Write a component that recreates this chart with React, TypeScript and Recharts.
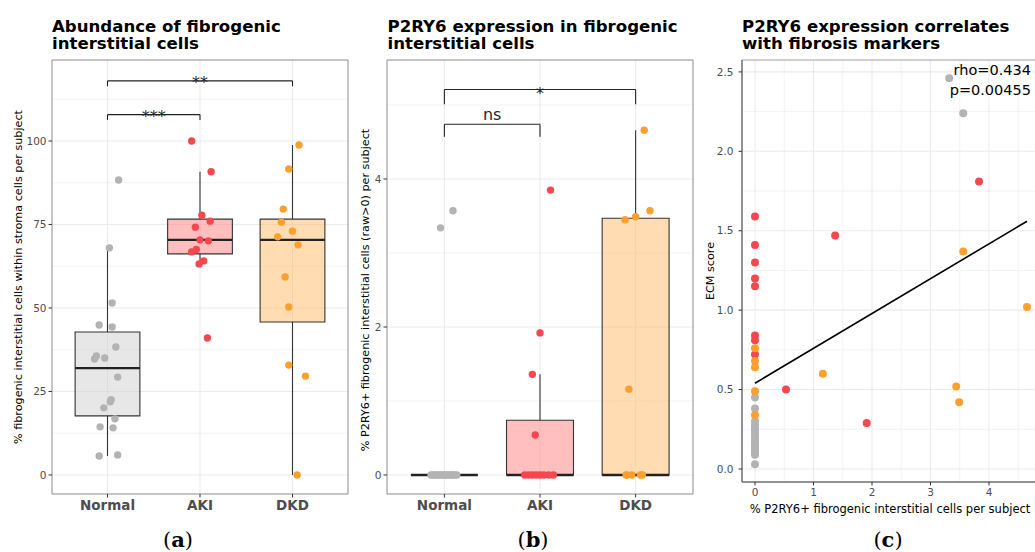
import React from "react";
import {
  CartesianGrid,
  ComposedChart,
  ReferenceArea,
  ReferenceLine,
  Scatter,
  XAxis,
  YAxis,
} from "recharts";

const FONT = "'DejaVu Sans', sans-serif";

const groups = ["Normal", "AKI", "DKD"];
const dotColor = ["#b3b3b3", "#f5474f", "#fd9f2c"];
const boxColor = ["#cfcfcf", "#ff8080", "#ffb966"];

// (a) abundance of fibrogenic interstitial cells (%), with horizontal jitter
const abundNormal = [88.3, 68.0, 51.5, 44.9, 44.3, 38.3, 35.6, 34.7, 35.0, 29.3, 22.5, 21.9, 20.1, 16.8, 14.4, 14.1, 5.7, 6.0];
const abundNormalJit = [0.12, 0.02, 0.05, -0.09, 0.05, 0.09, -0.12, -0.14, -0.03, 0.11, 0.04, 0.03, -0.04, 0.08, -0.08, 0.06, -0.09, 0.11];
const abundAKI = [100.0, 90.8, 77.8, 76.0, 74.2, 70.4, 70.1, 67.5, 66.8, 64.1, 63.2, 41.0];
const abundAKIJit = [-0.09, 0.12, 0.02, 0.11, -0.05, 0.0, 0.09, -0.04, -0.09, 0.04, -0.01, 0.08];
const abundDKD = [98.8, 91.6, 79.6, 75.7, 73.0, 71.3, 68.9, 59.3, 50.3, 32.9, 29.6, 0];
const abundDKDJit = [0.07, -0.04, -0.1, -0.12, 0.0, -0.16, 0.06, -0.08, -0.04, -0.04, 0.14, 0.05];

const abundLow = [5.7, 63.2, 0];
const abundQ1 = [17.7, 66.2, 45.8];
const abundMed = [32.0, 70.4, 70.4];
const abundQ3 = [42.8, 76.6, 76.6];
const abundHigh = [68.0, 90.8, 98.8];

// (b) % P2RY6+ fibrogenic interstitial cells
const p2Normal = [3.57, 3.34, 0, 0, 0, 0, 0, 0, 0, 0, 0, 0, 0, 0, 0, 0, 0, 0];
const p2NormalJit = [0.09, -0.04, -0.14, -0.12, -0.09, -0.07, -0.05, -0.03, -0.01, 0.01, 0.02, 0.04, 0.06, 0.08, 0.09, 0.11, 0.13, -0.1];
const p2AKI = [3.85, 1.92, 1.36, 0.54, 0, 0, 0, 0, 0, 0, 0, 0];
const p2AKIJit = [0.11, 0.0, -0.08, -0.05, -0.16, -0.12, -0.08, -0.04, 0.0, 0.04, 0.09, 0.14];
const p2DKD = [4.66, 3.57, 3.49, 3.45, 1.16, 0, 0, 0, 0, 0];
const p2DKDJit = [0.09, 0.15, 0.0, -0.11, -0.07, -0.1, -0.04, 0.07, 0.05, -0.09];

const p2Low = [0, 0, 0];
const p2Q1 = [0, 0, 0];
const p2Med = [0, 0, 0];
const p2Q3 = [0, 0.74, 3.47];
const p2High = [0, 1.36, 4.66];

// (c) ECM score vs % P2RY6+ cells
const corNormalX = [3.32, 3.56, 0, 0, 0, 0, 0, 0, 0, 0, 0, 0, 0, 0, 0, 0, 0, 0];
const corNormalY = [2.46, 2.24, 0.45, 0.38, 0.3, 0.28, 0.26, 0.24, 0.22, 0.2, 0.18, 0.17, 0.15, 0.13, 0.12, 0.1, 0.09, 0.03];
const corAKIX = [3.83, 1.37, 0.53, 1.91, 0, 0, 0, 0, 0, 0, 0, 0];
const corAKIY = [1.81, 1.47, 0.5, 0.29, 1.59, 1.41, 1.3, 1.2, 1.15, 0.84, 0.81, 0.72];
const corDKDX = [3.56, 4.65, 1.16, 3.44, 3.49, 0, 0, 0, 0, 0];
const corDKDY = [1.37, 1.02, 0.6, 0.52, 0.42, 0.76, 0.68, 0.64, 0.49, 0.34];
const fitLine = [
  { x: 0, y: 0.54 },
  { x: 4.65, y: 1.56 },
];

const jittered = (vals: number[], jit: number[], g: number) =>
  vals.map((v, i) => ({ x: g + 1 + jit[i], y: v }));
const paired = (xs: number[], ys: number[]) => xs.map((x, i) => ({ x, y: ys[i] }));

const dot = (color: string, r: number) => (p: any) =>
  <circle cx={p.cx} cy={p.cy} r={r} fill={color} />;

const tickStyle = { fill: "#4d4d4d", fontSize: 10.5, fontFamily: FONT };
const catStyle = { fill: "#4d4d4d", fontSize: 13.5, fontWeight: 700, fontFamily: FONT };

function bracketLabel(text: string, dy: number) {
  return (props: any) => {
    const vb = props.viewBox;
    return (
      <text x={vb.x + vb.width / 2} y={vb.y + dy} textAnchor="middle" fontSize={16} fontFamily={FONT} fill="#262626" stroke="none">
        {text}
      </text>
    );
  };
}

function boxes(low: number[], q1: number[], med: number[], q3: number[], high: number[]) {
  const out: React.ReactNode[] = [];
  groups.forEach((_, g) => {
    const c = g + 1;
    out.push(
      <ReferenceLine key={`wl${g}`} segment={[{ x: c, y: low[g] }, { x: c, y: q1[g] }]} stroke="#333" strokeWidth={1.1} ifOverflow="visible" />,
      <ReferenceLine key={`wh${g}`} segment={[{ x: c, y: q3[g] }, { x: c, y: high[g] }]} stroke="#333" strokeWidth={1.1} ifOverflow="visible" />
    );
    if (q3[g] > q1[g]) {
      out.push(
        <ReferenceArea key={`b${g}`} x1={c - 0.35} x2={c + 0.35} y1={q1[g]} y2={q3[g]} fill={boxColor[g]} fillOpacity={0.5} stroke="#333" strokeWidth={1.1} strokeOpacity={1} ifOverflow="visible" />
      );
    }
    out.push(
      <ReferenceLine key={`m${g}`} segment={[{ x: c - 0.35, y: med[g] }, { x: c + 0.35, y: med[g] }]} stroke="#222" strokeWidth={2.4} ifOverflow="visible" />
    );
  });
  return out;
}

function bracket(x1: number, x2: number, top: number, bottom: number, text: string, dy: number) {
  return [
    <ReferenceLine key={`bt${text}`} segment={[{ x: x1, y: top }, { x: x2, y: top }]} stroke="#222" strokeWidth={1.1} ifOverflow="visible" label={bracketLabel(text, dy)} />,
    <ReferenceLine key={`bl${text}`} segment={[{ x: x1, y: top }, { x: x1, y: bottom }]} stroke="#222" strokeWidth={1.1} ifOverflow="visible" />,
    <ReferenceLine key={`br${text}`} segment={[{ x: x2, y: top }, { x: x2, y: bottom }]} stroke="#222" strokeWidth={1.1} ifOverflow="visible" />,
  ];
}

function PanelA() {
  const yDomain = [-5.7, 124.25];
  return (
    <ComposedChart width={360} height={552} margin={{ top: 60, right: 12, bottom: 28, left: 30 }}>
      <CartesianGrid horizontalValues={[12.5, 37.5, 62.5, 87.5, 112.5]} vertical={false} stroke="#f3f3f3" />
      <CartesianGrid horizontalValues={[0, 25, 50, 75, 100]} verticalValues={[1, 2, 3]} stroke="#ebebeb" strokeWidth={1.1} />
      <XAxis type="number" dataKey="x" domain={[0.4, 3.6]} ticks={[1, 2, 3]} allowDataOverflow height={30}
        tickFormatter={(v) => groups[v - 1]} tick={catStyle} tickSize={3.5} tickMargin={3} tickLine={{ stroke: "#333" }} axisLine={false} />
      <YAxis type="number" dataKey="y" domain={yDomain} ticks={[0, 25, 50, 75, 100]} allowDataOverflow width={22}
        tick={tickStyle} tickSize={3.5} tickMargin={2} tickLine={{ stroke: "#333" }} axisLine={false} />
      <ReferenceArea x1={0.4} x2={3.6} y1={yDomain[0]} y2={yDomain[1]} fill="none" stroke="#8c8c8c" ifOverflow="visible" />
      {boxes(abundLow, abundQ1, abundMed, abundQ3, abundHigh)}
      {bracket(1, 2, 107.9, 106.3, "***", 7.5)}
      {bracket(1, 3, 118.0, 116.4, "**", 7.5)}
      <Scatter data={jittered(abundNormal, abundNormalJit, 0)} shape={dot(dotColor[0], 3.7)} isAnimationActive={false} />
      <Scatter data={jittered(abundAKI, abundAKIJit, 1)} shape={dot(dotColor[1], 3.7)} isAnimationActive={false} />
      <Scatter data={jittered(abundDKD, abundDKDJit, 2)} shape={dot(dotColor[2], 3.7)} isAnimationActive={false} />
    </ComposedChart>
  );
}

function PanelB() {
  const yDomain = [-0.257, 5.608];
  return (
    <ComposedChart width={360} height={552} margin={{ top: 60, right: 12, bottom: 28, left: 20 }}>
      <CartesianGrid horizontalValues={[1, 3, 5]} vertical={false} stroke="#f3f3f3" />
      <CartesianGrid horizontalValues={[0, 2, 4]} verticalValues={[1, 2, 3]} stroke="#ebebeb" strokeWidth={1.1} />
      <XAxis type="number" dataKey="x" domain={[0.4, 3.6]} ticks={[1, 2, 3]} allowDataOverflow height={30}
        tickFormatter={(v) => groups[v - 1]} tick={catStyle} tickSize={3.5} tickMargin={3} tickLine={{ stroke: "#333" }} axisLine={false} />
      <YAxis type="number" dataKey="y" domain={yDomain} ticks={[0, 2, 4]} allowDataOverflow width={22}
        tick={tickStyle} tickSize={3.5} tickMargin={2} tickLine={{ stroke: "#333" }} axisLine={false} />
      <ReferenceArea x1={0.4} x2={3.6} y1={yDomain[0]} y2={yDomain[1]} fill="none" stroke="#8c8c8c" ifOverflow="visible" />
      {boxes(p2Low, p2Q1, p2Med, p2Q3, p2High)}
      {bracket(1, 2, 4.74, 4.57, "ns", -4)}
      {bracket(1, 3, 5.21, 5.01, "*", 10)}
      <Scatter data={jittered(p2Normal, p2NormalJit, 0)} shape={dot(dotColor[0], 3.7)} isAnimationActive={false} />
      <Scatter data={jittered(p2AKI, p2AKIJit, 1)} shape={dot(dotColor[1], 3.7)} isAnimationActive={false} />
      <Scatter data={jittered(p2DKD, p2DKDJit, 2)} shape={dot(dotColor[2], 3.7)} isAnimationActive={false} />
    </ComposedChart>
  );
}

function PanelC() {
  const xDomain = [-0.222, 4.872];
  const yDomain = [-0.082, 2.575];
  return (
    <ComposedChart width={360} height={552} margin={{ top: 60, right: 10, bottom: 40, left: 24 }}>
      <CartesianGrid horizontalValues={[0.25, 0.75, 1.25, 1.75, 2.25]} verticalValues={[0.5, 1.5, 2.5, 3.5, 4.5]} stroke="#f3f3f3" />
      <CartesianGrid horizontalValues={[0, 0.5, 1, 1.5, 2, 2.5]} verticalValues={[0, 1, 2, 3, 4]} stroke="#ebebeb" strokeWidth={1.1} />
      <XAxis type="number" dataKey="x" domain={xDomain} ticks={[0, 1, 2, 3, 4]} allowDataOverflow height={30}
        tick={tickStyle} tickSize={3.5} tickMargin={3} tickLine={{ stroke: "#333" }} axisLine={{ stroke: "#555" }} />
      <YAxis type="number" dataKey="y" domain={yDomain} ticks={[0, 0.5, 1, 1.5, 2, 2.5]} allowDataOverflow width={28}
        tickFormatter={(v) => v.toFixed(1)} tick={tickStyle} tickSize={3.5} tickMargin={5} tickLine={{ stroke: "#333" }} axisLine={{ stroke: "#555" }} />
      <ReferenceArea x1={xDomain[0]} x2={xDomain[1]} y1={yDomain[0]} y2={yDomain[1]} fill="none" stroke="#a0a0a0" ifOverflow="visible" />
      <Scatter data={paired(corNormalX, corNormalY)} shape={dot(dotColor[0], 4)} isAnimationActive={false} />
      <Scatter data={paired(corAKIX, corAKIY)} shape={dot(dotColor[1], 4)} isAnimationActive={false} />
      <Scatter data={paired(corDKDX, corDKDY)} shape={dot(dotColor[2], 4)} isAnimationActive={false} />
      <ReferenceLine segment={fitLine} stroke="#000" strokeWidth={1.6} ifOverflow="visible" />
    </ComposedChart>
  );
}

function Caption({ x, letter }: { x: number; letter: string }) {
  return (
    <text x={x} y={547} textAnchor="middle" fontSize={21} fontFamily="'DejaVu Serif', 'Liberation Serif', serif" fill="#000">
      (<tspan fontWeight={700}>{letter}</tspan>)
    </text>
  );
}

export default function App() {
  const title = { fontSize: 16.6, fontWeight: 700, fontFamily: FONT, fill: "#000" };
  const axisTitle = { fontSize: 11.2, fontFamily: FONT, fill: "#000" };
  return (
    <div style={{ position: "absolute", left: 0, top: 0, width: 1035, height: 552, overflow: "hidden", background: "#fff" }}>
      <div style={{ position: "absolute", left: 0, top: 0 }}><PanelA /></div>
      <div style={{ position: "absolute", left: 345, top: 0 }}><PanelB /></div>
      <div style={{ position: "absolute", left: 690, top: 0 }}><PanelC /></div>
      <svg width={1035} height={552} style={{ position: "absolute", left: 0, top: 0, pointerEvents: "none" }}>
        <text x={52} y={31.7} {...title}>Abundance of fibrogenic</text>
        <text x={52} y={49.3} {...title}>interstitial cells</text>
        <text x={387.5} y={31.7} {...title}>P2RY6 expression in fibrogenic</text>
        <text x={387.5} y={49.3} {...title}>interstitial cells</text>
        <text x={742} y={31.7} {...title}>P2RY6 expression correlates</text>
        <text x={742} y={49.3} {...title}>with fibrosis markers</text>

        <text transform="translate(22,277) rotate(-90)" textAnchor="middle" {...axisTitle}>
          % fibrogenic interstitial cells within stroma cells per subject
        </text>
        <text transform="translate(369,290) rotate(-90)" textAnchor="middle" {...axisTitle}>
          % P2RY6+ fibrogenic interstitial cells (raw&gt;0) per subject
        </text>
        <text transform="translate(714,271) rotate(-90)" textAnchor="middle" {...axisTitle}>ECM score</text>
        <text x={890} y={513} textAnchor="middle" fontSize={11.5} fontFamily={FONT} fill="#000">
          % P2RY6+ fibrogenic interstitial cells per subject
        </text>

        <text x={1031} y={75} textAnchor="end" fontSize={14.5} fontFamily={FONT} fill="#000">rho=0.434</text>
        <text x={1031} y={95} textAnchor="end" fontSize={14.5} fontFamily={FONT} fill="#000">p=0.00455</text>

        <Caption x={178} letter="a" />
        <Caption x={533} letter="b" />
        <Caption x={888} letter="c" />
      </svg>
    </div>
  );
}
